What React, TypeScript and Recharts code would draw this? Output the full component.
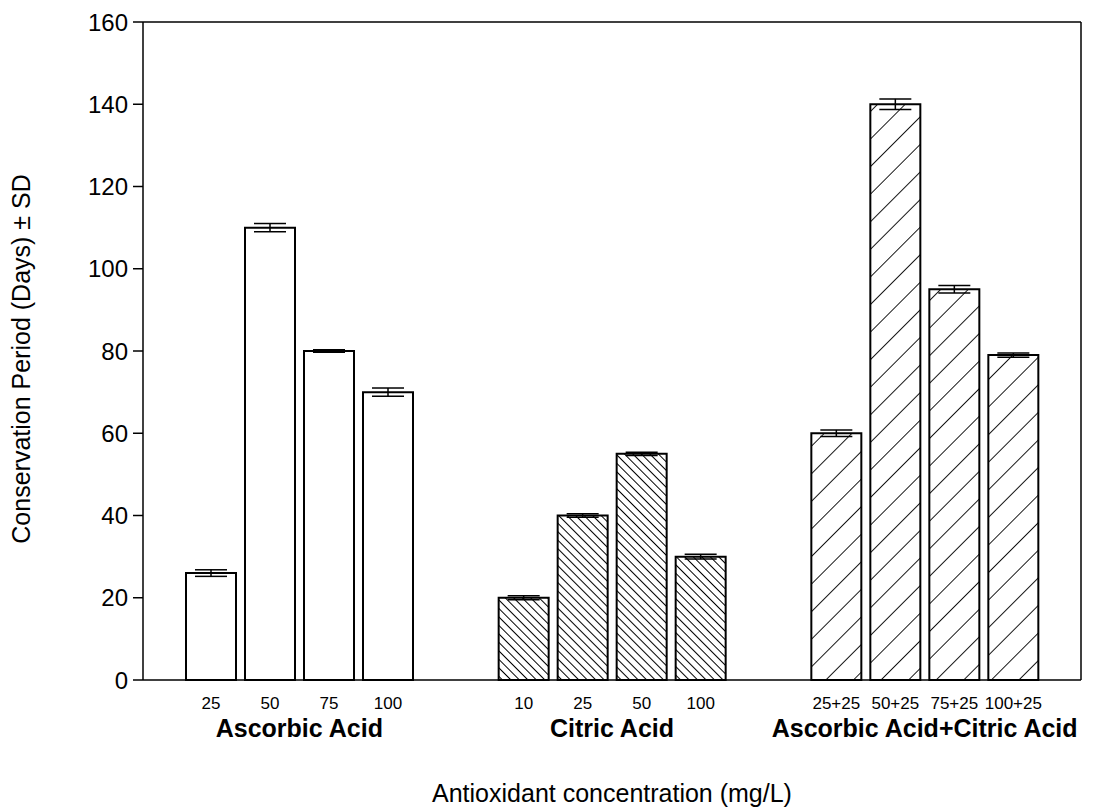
import React from 'react';
import { BarChart, Bar, Cell, XAxis, YAxis, ErrorBar, LabelList, Label, ReferenceLine } from 'recharts';

const groups = ['Ascorbic Acid', 'Citric Acid', 'Ascorbic Acid+Citric Acid'];

const ascorbicDoses = ['25', '50', '75', '100'];
const citricDoses = ['10', '25', '50', '100'];
const comboDoses = ['25+25', '50+25', '75+25', '100+25'];

const ascorbicDays = [26, 110, 80, 70];
const citricDays = [20, 40, 55, 30];
const comboDays = [60, 140, 95, 79];

const ascorbicSd = [0.8, 1, 0.3, 1];
const citricSd = [0.5, 0.4, 0.4, 0.6];
const comboSd = [0.8, 1.3, 0.9, 0.5];

const yTicks = [0, 20, 40, 60, 80, 100, 120, 140, 160];

const FONT = "Arial, 'Liberation Sans', sans-serif";
const FILLS = ['#ffffff', 'url(#hatchBack)', 'url(#hatchFwd)'];

const doses = [ascorbicDoses, citricDoses, comboDoses];
const days = [ascorbicDays, citricDays, comboDays];
const sds = [ascorbicSd, citricSd, comboSd];

// one row per treatment group, four dose columns each
const rows = groups.map((group, g) => {
    const row: Record<string, string | number> = { group };
    for (let k = 0; k < 4; k++) {
        row[`d${k}`] = days[g][k];
        row[`e${k}`] = sds[g][k];
    }
    return row;
});

const GroupTick = (props: any) => {
    const { x, y, payload } = props;
    return (
        <text x={x} y={y + 57} textAnchor="middle" fontFamily={FONT} fontSize={25} fontWeight="bold" fill="#000">
            {payload.value}
        </text>
    );
};

const doseLabel = (k: number) => (props: any) => {
    const { x, y, width, height, index } = props;
    return (
        <text x={x + width / 2} y={y + height + 29} textAnchor="middle" fontFamily={FONT} fontSize={17} fill="#000">
            {doses[index][k]}
        </text>
    );
};

const YTitle = (props: any) => {
    const { viewBox } = props;
    const cx = viewBox.x + 22;
    const cy = viewBox.y + viewBox.height / 2 + 8;
    return (
        <text x={cx} y={cy} transform={`rotate(-90, ${cx}, ${cy})`} textAnchor="middle"
            fontFamily={FONT} fontSize={25} fill="#000">
            Conservation Period (Days) ± SD
        </text>
    );
};

const XTitle = (props: any) => {
    const { viewBox } = props;
    return (
        <text x={viewBox.x + viewBox.width / 2} y={viewBox.y + 122} textAnchor="middle"
            fontFamily={FONT} fontSize={25} fill="#000">
            Antioxidant concentration (mg/L)
        </text>
    );
};

const App = () => {
    return (
        <BarChart
            width={1086}
            height={800}
            data={rows}
            margin={{ top: 14, right: 13, left: 0, bottom: 28 }}
            barSize={50}
            barGap={9}
        >
            <defs>
                <pattern id="hatchBack" patternUnits="userSpaceOnUse" width={6} height={6} patternTransform="rotate(-45)">
                    <rect width={6} height={6} fill="#fff" />
                    <line x1={0} y1={0} x2={0} y2={6} stroke="#000" strokeWidth={2} />
                </pattern>
                <pattern id="hatchFwd" patternUnits="userSpaceOnUse" width={19.5} height={19.5} patternTransform="rotate(45)">
                    <rect width={19.5} height={19.5} fill="#fff" />
                    <line x1={0} y1={0} x2={0} y2={19.5} stroke="#000" strokeWidth={1.8} />
                </pattern>
            </defs>
            <XAxis
                dataKey="group"
                height={100}
                tickLine={false}
                tickSize={0}
                tickMargin={0}
                tick={<GroupTick />}
                axisLine={{ stroke: '#000', strokeWidth: 1.5 }}
                interval={0}
            >
                <Label content={<XTitle />} />
            </XAxis>
            <YAxis
                width={135}
                domain={[0, 160]}
                ticks={yTicks}
                tickSize={10}
                tickMargin={5}
                tick={{ fontFamily: FONT, fontSize: 24, fill: '#000' }}
                tickLine={{ stroke: '#000', strokeWidth: 1.5 }}
                axisLine={{ stroke: '#000', strokeWidth: 1.5 }}
            >
                <Label content={<YTitle />} />
            </YAxis>
            {/* top and right edges of the frame */}
            <ReferenceLine y={160} stroke="#000" strokeWidth={1.5} />
            <ReferenceLine x={groups[2]} position="end" stroke="#000" strokeWidth={1.5} />
            {[0, 1, 2, 3].map((k) => (
                <Bar key={k} dataKey={`d${k}`} stroke="#000" strokeWidth={2} isAnimationActive={false}>
                    {rows.map((_, g) => (
                        <Cell key={`c-${k}-${g}`} fill={FILLS[g]} />
                    ))}
                    <ErrorBar dataKey={`e${k}`} direction="y" width={16} stroke="#000" strokeWidth={1.5} />
                    <LabelList content={doseLabel(k)} />
                </Bar>
            ))}
        </BarChart>
    );
};

export default App;
